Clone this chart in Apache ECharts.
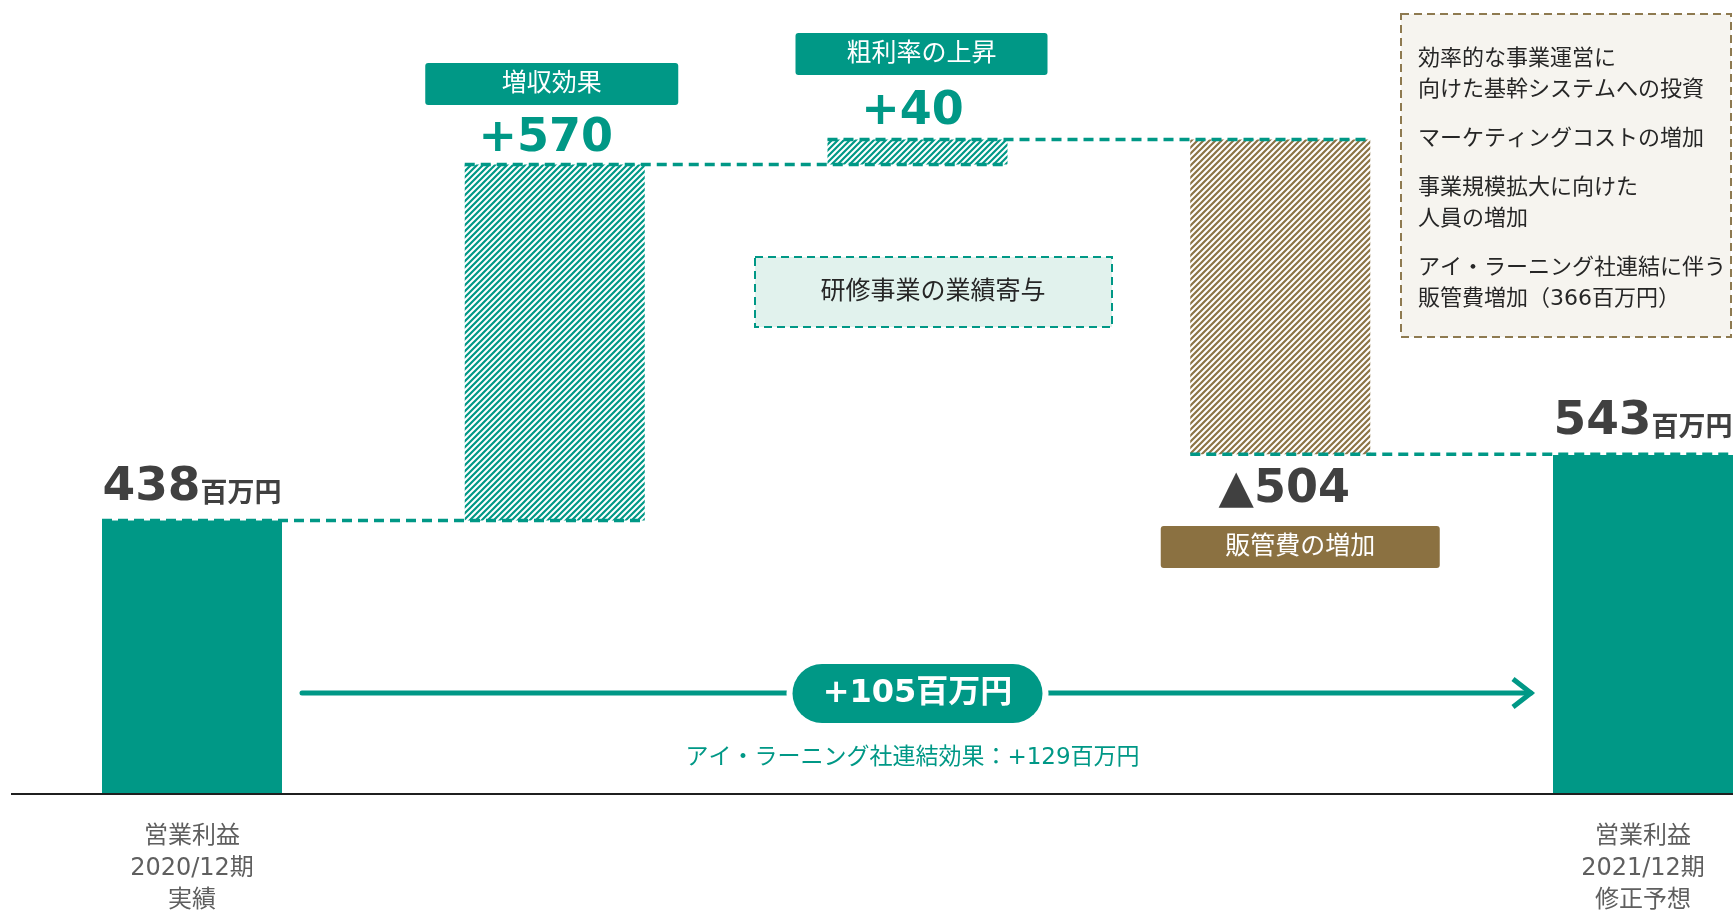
<!DOCTYPE html>
<html lang="ja">
<head>
<meta charset="utf-8">
<title>営業利益 増減要因</title>
<script src="https://cdn.jsdelivr.net/npm/echarts@6/dist/echarts.min.js"></script>
<style>
  html, body { margin: 0; padding: 0; background: #ffffff; }
  #chart { width: 1733px; height: 917px; }
</style>
</head>
<body>
<div id="chart"></div>
<script>
// ---- data (百万円) ----
const categories = ['営業利益\n2020/12期\n実績', '', '', '', '営業利益\n2021/12期\n修正予想'];
const startValue = 438;                       // 2020/12期 実績
const changeValues = [570, 40, -504];         // 増収効果, 粗利率の上昇, 販管費の増加
const endValue = 543;                         // 2021/12期 修正予想
const driverNames = ['増収効果', '粗利率の上昇', '販管費の増加'];
const totalChange = 105;                      // 増益額
const consolidationEffect = 129;              // アイ・ラーニング社連結効果
const costNotes = [
  '効率的な事業運営に',
  '向けた基幹システムへの投資',
  'マーケティングコストの増加',
  '事業規模拡大に向けた',
  '人員の増加',
  'アイ・ラーニング社連結に伴う',
  '販管費増加（366百万円）'
];
const costNoteGroups = [[0, 1], [2], [3, 4], [5, 6]];
const unit = '百万円';

// ---- derived waterfall values ----
// invisible base + visible bar for each step, and the running level after each step
const baseValues = [0];
const barValues = [startValue];
const connectorLevels = [startValue];
let running = startValue;
changeValues.forEach(d => {
  const next = running + d;
  baseValues.push(Math.min(running, next));
  barValues.push(Math.abs(d));
  running = next;
  connectorLevels.push(running);
});
baseValues.push(0);
barValues.push(endValue);

// ---- styling ----
const TEAL = '#009886';
const BROWN = '#8c7446';
const BROWN_BOX = '#8b7141';
const DARK = '#404040';
const NUM_FONT = '"DejaVu Sans", "Noto Sans CJK JP", sans-serif';
const JP_FONT = '"DejaVu Sans", "Noto Sans CJK JP", sans-serif';
const BAR_W = 180;
// label gap from the bar edge and small horizontal nudge, per bar
const labelGap = [8, 1, 3, 11, 8];
const labelShiftX = [0, -9, -5, 4, 0];

function hatch(color) {
  const s = 6;
  const c = document.createElement('canvas');
  c.width = s; c.height = s;
  const g = c.getContext('2d');
  g.fillStyle = '#ffffff';
  g.fillRect(0, 0, s, s);
  g.strokeStyle = color;
  g.lineWidth = 2.2;
  g.beginPath();
  g.moveTo(-1, s + 1); g.lineTo(s + 1, -1);
  g.moveTo(-s / 2 - 1, s / 2 + 1); g.lineTo(s / 2 + 1, -s / 2 - 1);
  g.moveTo(s / 2 - 1, s * 1.5 + 1); g.lineTo(s * 1.5 + 1, s / 2 - 1);
  g.stroke();
  return { image: c, repeat: 'repeat' };
}
const tealHatch = hatch(TEAL);
const brownHatch = hatch(BROWN);

function valueLabelText(i) {
  if (i === 0 || i === categories.length - 1) {
    return '{big|' + barValues[i] + '}{unit|' + unit + '}';
  }
  const d = changeValues[i - 1];
  return d >= 0 ? '{up|+' + d + '}' : '{down|▲' + Math.abs(d) + '}';
}

const richStyles = {
  big: { fontFamily: NUM_FONT, fontWeight: 'bold', fontSize: 47, color: DARK, lineHeight: 50 },
  unit: { fontFamily: NUM_FONT, fontWeight: 'bold', fontSize: 27, color: DARK, lineHeight: 50, verticalAlign: 'bottom', padding: [0, 0, 4, 0] },
  up: { fontFamily: NUM_FONT, fontWeight: 'bold', fontSize: 46, color: TEAL, lineHeight: 50 },
  down: { fontFamily: NUM_FONT, fontWeight: 'bold', fontSize: 46, color: DARK, lineHeight: 50 }
};

const barData = barValues.map((v, i) => {
  const last = categories.length - 1;
  let fill = TEAL;
  let pos = 'top';
  if (i > 0 && i < last) {
    const d = changeValues[i - 1];
    fill = d >= 0 ? tealHatch : brownHatch;
    if (d < 0) pos = 'bottom';
  }
  return {
    value: v,
    itemStyle: { color: fill },
    label: {
      show: true,
      position: pos,
      distance: labelGap[i],
      offset: [labelShiftX[i], 0],
      formatter: () => valueLabelText(i),
      rich: richStyles
    }
  };
});

const chart = echarts.init(document.getElementById('chart'), null, { renderer: 'canvas' });

chart.setOption({
  backgroundColor: '#ffffff',
  animation: false,
  // categories sit on the ticks; the outer bars fill the width out to the page edges
  grid: { left: 192, top: 1, width: 1451, height: 799, containLabel: false },
  xAxis: {
    type: 'category',
    data: categories,
    boundaryGap: false,
    axisLine: { show: false },
    axisTick: { show: false },
    axisLabel: {
      interval: 0,
      margin: 27,
      color: '#5f5f5f',
      fontFamily: JP_FONT,
      fontSize: 24,
      lineHeight: 32
    }
  },
  yAxis: {
    type: 'value',
    min: 0,
    max: 1270,
    show: false,
    splitLine: { show: false }
  },
  series: [
    {
      name: 'base',
      type: 'bar',
      stack: 'wf',
      barWidth: BAR_W,
      itemStyle: { color: 'transparent' },
      emphasis: { disabled: true },
      data: baseValues
    },
    {
      name: '営業利益',
      type: 'bar',
      stack: 'wf',
      barWidth: BAR_W,
      emphasis: { disabled: true },
      data: barData
    },
    {
      name: 'connector',
      type: 'custom',
      z: 5,
      data: connectorLevels.map((v, i) => [i, v]),
      renderItem(params, api) {
        const i = api.value(0);
        const v = api.value(1);
        const a = api.coord([i, v]);
        const b = api.coord([i + 1, v]);
        return {
          type: 'line',
          shape: { x1: a[0] - BAR_W / 2, y1: a[1], x2: b[0] + BAR_W / 2, y2: b[1] },
          style: { stroke: TEAL, lineWidth: 3.5, lineDash: [10, 6] }
        };
      }
    }
  ]
});

// ---- annotations placed from the bar geometry ----
const px = (i, v) => chart.convertToPixel({ xAxisIndex: 0, yAxisIndex: 0 }, [i, v]);
const graphics = [];

// baseline across the whole width
const y0 = px(0, 0)[1];
graphics.push({
  type: 'line',
  shape: { x1: 11, y1: y0, x2: 1733, y2: y0 },
  style: { stroke: '#1f1f1f', lineWidth: 2 },
  z: 20
});

function labelBox(cx, top, w, h, text, fill) {
  graphics.push({
    type: 'rect',
    shape: { x: cx - w / 2, y: top, width: w, height: h, r: 3 },
    style: { fill: fill },
    z: 10
  });
  graphics.push({
    type: 'text',
    x: cx, y: top + h / 2,
    style: { text: text, fill: '#ffffff', font: '25px ' + JP_FONT, align: 'center', verticalAlign: 'middle' },
    z: 11
  });
}
const c1 = px(1, 0)[0], c2 = px(2, 0)[0], c3 = px(3, 0)[0];
labelBox(c1 - 3, 63, 253, 42, driverNames[0], TEAL);
labelBox(c2 + 4, 33, 252, 42, driverNames[1], TEAL);
labelBox(c3 + 20, 526, 279, 42, driverNames[2], BROWN_BOX);

// 研修事業の業績寄与
graphics.push({
  type: 'rect',
  shape: { x: 755, y: 257, width: 357, height: 70 },
  style: { fill: '#e1f2ed', stroke: TEAL, lineWidth: 2, lineDash: [8, 5] },
  z: 10
});
graphics.push({
  type: 'text',
  x: 933, y: 292,
  style: { text: '研修事業の業績寄与', fill: '#262626', font: '25px ' + JP_FONT, align: 'center', verticalAlign: 'middle' },
  z: 11
});

// 販管費 増加要因の注記
graphics.push({
  type: 'rect',
  shape: { x: 1401, y: 14, width: 330, height: 323 },
  style: { fill: '#f6f4ef', stroke: '#8e7a50', lineWidth: 2, lineDash: [8, 5] },
  z: 10
});
let noteY = 59;
costNoteGroups.forEach(grp => {
  grp.forEach((li, k) => {
    graphics.push({
      type: 'text',
      x: 1418, y: noteY,
      style: { text: costNotes[li], fill: '#262626', font: '22px ' + JP_FONT, align: 'left', verticalAlign: 'middle' },
      z: 11
    });
    noteY += (k < grp.length - 1) ? 31 : 49;
  });
});

// 増益額の矢印
const x0 = px(0, 0)[0] + BAR_W / 2 + 20;
const x4 = px(4, 0)[0] - BAR_W / 2 - 22;
const ay = 693;
graphics.push({
  type: 'line',
  shape: { x1: x0, y1: ay, x2: x4, y2: ay },
  style: { stroke: TEAL, lineWidth: 5, lineCap: 'round' },
  z: 10
});
graphics.push({
  type: 'polyline',
  shape: { points: [[x4 - 18, ay - 14], [x4, ay], [x4 - 18, ay + 14]] },
  style: { stroke: TEAL, lineWidth: 5, fill: null, lineJoin: 'miter' },
  z: 10
});
const midX = (px(0, 0)[0] + px(4, 0)[0]) / 2;
graphics.push({
  type: 'rect',
  shape: { x: midX - 125 - 6, y: 660, width: 262, height: 67, r: 33 },
  style: { fill: '#ffffff' },
  z: 11
});
graphics.push({
  type: 'rect',
  shape: { x: midX - 125, y: 664, width: 250, height: 59, r: 29.5 },
  style: { fill: TEAL },
  z: 12
});
graphics.push({
  type: 'text',
  x: midX, y: 694,
  style: { text: '+' + totalChange + unit, fill: '#ffffff', font: 'bold 32px ' + NUM_FONT, align: 'center', verticalAlign: 'middle' },
  z: 13
});
graphics.push({
  type: 'text',
  x: midX - 5, y: 758,
  style: { text: 'アイ・ラーニング社連結効果：+' + consolidationEffect + unit, fill: TEAL, font: '23px ' + JP_FONT, align: 'center', verticalAlign: 'middle' },
  z: 11
});

chart.setOption({ graphic: { elements: graphics } });
</script>
</body>
</html>
